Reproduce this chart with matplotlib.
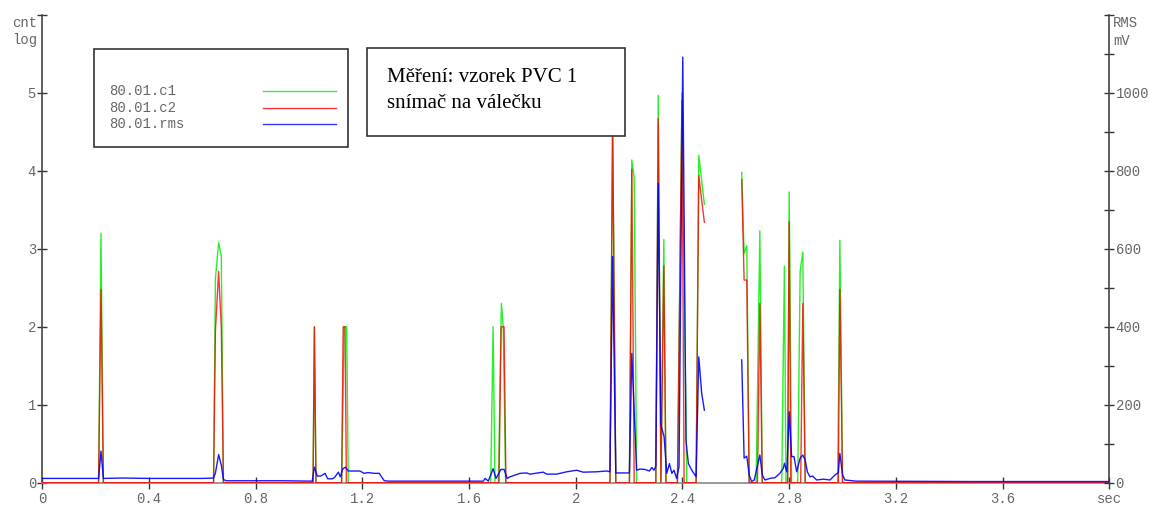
import numpy as np
import matplotlib
matplotlib.use("Agg")
import matplotlib.pyplot as plt
from matplotlib.patches import Rectangle
from matplotlib.lines import Line2D

NAN = float("nan")

# channel c1 (log counts): time [s], value
c1_t = [0.0, 0.211, 0.220, 0.229,
        0.642, 0.649, 0.661, 0.671, 0.679,
        1.015, 1.020, 1.026,
        1.122, 1.132, 1.141, 1.147,
        1.681, 1.690, 1.697,
        1.710, 1.721, 1.728, 1.737,
        2.128, 2.138, 2.150,
        2.201, 2.210, 2.219, 2.228,
        2.300, 2.309, 2.319, 2.330, 2.338,
        2.381, 2.398, 2.416,
        2.451, 2.461, 2.482,
        2.550,
        2.622, 2.631, 2.641, 2.650,
        2.676, 2.690, 2.699,
        2.772, 2.782, 2.788, 2.794, 2.800, 2.809,
        2.832, 2.841, 2.851, 2.860,
        2.982, 2.990, 3.000,
        4.0]
c1_v = [0, 0, 3.20, 0,
        0, 2.62, 3.08, 2.91, 0,
        0, 2.00, 0,
        0, 2.00, 2.00, 0,
        0, 2.00, 0,
        0, 2.30, 2.00, 0,
        0, 4.70, 0,
        0, 4.14, 3.91, 0,
        0, 4.97, 0, 3.12, 0,
        0, 5.00, 0,
        0, 4.20, 3.57,
        NAN,
        3.98, 2.94, 3.04, 0,
        0, 3.23, 0,
        0, 2.78, 0, 0, 3.73, 0,
        0, 2.71, 2.96, 0,
        0, 3.11, 0,
        0]

# channel c2 (log counts)
c2_t = [0.0, 0.211, 0.220, 0.229,
        0.642, 0.649, 0.661, 0.671, 0.679,
        1.015, 1.020, 1.026,
        1.122, 1.128, 1.135, 1.140,
        1.712, 1.720, 1.731, 1.738,
        2.128, 2.138, 2.150,
        2.201, 2.210, 2.219,
        2.300, 2.309, 2.319, 2.330, 2.338,
        2.381, 2.398, 2.406,
        2.451, 2.461, 2.482,
        2.550,
        2.622, 2.631, 2.641, 2.650,
        2.681, 2.690, 2.699,
        2.794, 2.800, 2.806,
        2.843, 2.851, 2.860,
        2.984, 2.990, 3.000,
        4.0]
c2_v = [0, 0, 2.48, 0,
        0, 1.95, 2.71, 2.00, 0,
        0, 2.00, 0,
        0, 2.00, 2.00, 0,
        0, 2.00, 2.00, 0,
        0, 4.55, 0,
        0, 4.02, 0,
        0, 4.67, 0, 2.78, 0,
        0, 4.90, 0,
        0, 3.94, 3.34,
        NAN,
        3.89, 2.60, 2.60, 0,
        0, 2.30, 0,
        0, 3.35, 0,
        0, 2.30, 0,
        0, 2.48, 0,
        0]

# RMS level [mV]
rms_t = [0.0, 0.1, 0.2, 0.211, 0.220, 0.229, 0.3, 0.4, 0.5, 0.6, 0.642,
         0.649, 0.661, 0.671, 0.679, 0.690, 0.9, 1.012,
         1.020, 1.031, 1.044, 1.060, 1.070, 1.087, 1.095, 1.110, 1.117, 1.127,
         1.137, 1.147, 1.191, 1.206, 1.221, 1.244, 1.263, 1.282, 1.300, 1.5, 1.653,
         1.660, 1.672, 1.690, 1.701, 1.719, 1.731, 1.743, 1.753, 1.791, 1.816,
         1.828, 1.878, 1.891, 1.928, 1.966, 2.003, 2.028, 2.078, 2.116, 2.128,
         2.138, 2.150, 2.201, 2.210, 2.228, 2.241, 2.259, 2.276, 2.285, 2.293,
         2.300, 2.309, 2.319, 2.331, 2.341, 2.351, 2.360, 2.368, 2.378, 2.387,
         2.401, 2.413, 2.422, 2.435, 2.451, 2.461, 2.472, 2.482,
         2.550,
         2.622, 2.631, 2.641, 2.650, 2.659, 2.669, 2.680, 2.690, 2.699, 2.709,
         2.728, 2.747, 2.765, 2.778, 2.782, 2.791, 2.800, 2.809, 2.818, 2.828,
         2.841, 2.851, 2.860, 2.868, 2.878, 2.888, 2.903, 2.928, 2.953, 2.972,
         2.984, 2.990, 3.000, 3.009, 3.05, 3.5, 4.0]
rms_v = [11, 11, 11, 11, 81, 11, 12, 11, 11, 11, 12,
         25, 72, 45, 8, 5, 5, 4,
         40, 17, 17, 24, 10, 10, 13, 27, 15, 36,
         40, 30, 30, 24, 26, 24, 24, 5, 4, 4, 4,
         11, 4, 36, 11, 34, 34, 11, 15, 24, 25,
         22, 27, 22, 22, 28, 32, 27, 28, 30, 28,
         580, 25, 25, 332, 32, 35, 34, 30, 39, 32,
         42, 768, 148, 118, 24, 49, 24, 32, 11, 41,
         1092, 109, 49, 32, 15, 323, 229, 186,
         NAN,
         315, 63, 68, 20, 3, 7, 41, 71, 20, 7,
         11, 13, 24, 37, 50, 28, 182, 67, 67, 28,
         63, 71, 58, 28, 15, 17, 7, 9, 7, 20,
         26, 75, 20, 7, 4, 3, 3]

x_ticks = [0, 0.4, 0.8, 1.2, 1.6, 2.0, 2.4, 2.8, 3.2, 3.6, 4.0]
x_labels = ["0", "0.4", "0.8", "1.2", "1.6", "2", "2.4", "2.8", "3.2", "3.6", "sec"]
left_ticks = [0, 1, 2, 3, 4, 5, 6]
left_labels = ["0", "1", "2", "3", "4", "5", ""]
right_ticks = list(range(0, 1201, 100))
right_labels = [str(v) if v % 200 == 0 and v <= 1000 else "" for v in right_ticks]
series_names = ["80.01.c1", "80.01.c2", "80.01.rms"]
series_colors = ["#00ee00", "#ff0000", "#0000ff"]
title_lines = ["Měření: vzorek PVC 1", "snímač na válečku"]

W, H = 1150, 505
fig = plt.figure(figsize=(W / 100, H / 100), dpi=100)
fig.patch.set_facecolor("white")

mono = "Liberation Mono"
serif = "Liberation Serif"
tick_color = "#666666"

ax = fig.add_axes([42.3 / W, 1 - 482.7 / H, (1109.3 - 42.3) / W, (482.7 - 15) / H])
ax2 = ax.twinx()

ax.plot(c1_t, c1_v, color=series_colors[0], lw=1.0, alpha=0.85, zorder=2)
ax.plot(c2_t, c2_v, color=series_colors[1], lw=1.0, alpha=0.8, zorder=3)
ax2.plot(rms_t, rms_v, color=series_colors[2], lw=1.0, alpha=0.9, zorder=4)

ax.set_xlim(0, 4.0)
ax.set_ylim(0, 6)
ax2.set_ylim(0, 1200)

ax.set_xticks(x_ticks)
ax.set_xticklabels(x_labels, fontfamily=mono, fontsize=10, color=tick_color)
ax.set_yticks(left_ticks)
ax.set_yticklabels(left_labels, fontfamily=mono, fontsize=10, color=tick_color)
ax2.set_yticks(right_ticks)
ax2.set_yticklabels(right_labels, fontfamily=mono, fontsize=10, color=tick_color)

ax.tick_params(axis="x", direction="inout", length=8, width=1, colors="#333333",
               labelcolor=tick_color, pad=3)
ax.tick_params(axis="y", direction="inout", length=7, width=1, colors="#333333",
               labelcolor=tick_color, pad=1.0)
ax2.tick_params(axis="y", direction="inout", length=7, width=1, colors="#333333",
                labelcolor=tick_color, pad=1.0)

for a in (ax, ax2):
    a.spines["top"].set_visible(False)
ax.spines["right"].set_visible(False)
ax2.spines["left"].set_visible(False)
ax2.spines["bottom"].set_visible(False)
ax.spines["left"].set_color("#444444")
ax.spines["left"].set_linewidth(1.2)
ax2.spines["right"].set_color("#444444")
ax2.spines["right"].set_linewidth(1.2)
ax.spines["bottom"].set_color("#888888")
ax.spines["bottom"].set_linewidth(1.2)


def fx(px):
    return px / W


def fy(py):
    return 1 - py / H


# axis unit captions
fig.text(fx(37), fy(27), "cnt", ha="right", va="baseline", fontfamily=mono, fontsize=10, color=tick_color)
fig.text(fx(37), fy(44), "log", ha="right", va="baseline", fontfamily=mono, fontsize=10, color=tick_color)
fig.text(fx(1113), fy(27), "RMS", ha="left", va="baseline", fontfamily=mono, fontsize=10, color=tick_color)
fig.text(fx(1113), fy(45), "mV", ha="left", va="baseline", fontfamily=mono, fontsize=10, color=tick_color)

# legend box
fig.add_artist(Rectangle((fx(94.3), fy(147.3)), fx(348 - 94.3), (147.3 - 49) / H,
                         transform=fig.transFigure, facecolor="white",
                         edgecolor="#333333", lw=1.2, zorder=5))
for i, (name, col) in enumerate(zip(series_names, series_colors)):
    base = 95 + i * 16.7
    fig.text(fx(109.3), fy(base), name, ha="left", va="baseline", fontfamily=mono,
             fontsize=10, color=tick_color, zorder=6)
    fig.add_artist(Line2D([fx(263.3), fx(335.7)], [fy(base - 4), fy(base - 4)],
                          transform=fig.transFigure, color=col, lw=1.0, alpha=0.8, zorder=6))

# measurement description box
fig.add_artist(Rectangle((fx(367), fy(135.5)), fx(625 - 367), (135.5 - 48) / H,
                         transform=fig.transFigure, facecolor="white",
                         edgecolor="#333333", lw=1.2, zorder=5))
fig.text(fx(387), fy(82), title_lines[0], ha="left", va="baseline", fontfamily=serif,
         fontsize=15, color="black", zorder=6)
fig.text(fx(387), fy(108), title_lines[1], ha="left", va="baseline", fontfamily=serif,
         fontsize=15, color="black", zorder=6)

fig.savefig("out.png", dpi=100, facecolor="white")
